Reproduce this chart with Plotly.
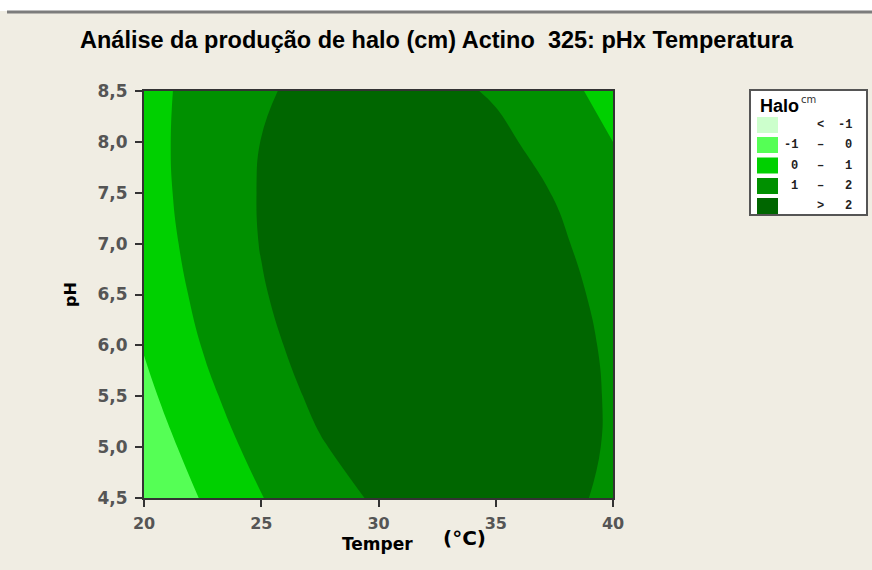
import plotly.graph_objects as go

# ---------------- data ----------------
temperatura = [20, 22.5, 25, 27.5, 30, 32.5, 35, 37.5, 40]
ph = [4.5, 5.0, 5.5, 6.0, 6.5, 7.0, 7.5, 8.0, 8.5]
# halo (cm): rows = pH (4.5 -> 8.5), columns = temperature (20 -> 40)
halo_ph45 = [-0.98, 0.07, 0.97, 1.65, 2.11, 2.37, 2.40, 2.23, 1.84]
halo_ph50 = [-0.61, 0.46, 1.31, 1.94, 2.36, 2.57, 2.56, 2.34, 1.91]
halo_ph55 = [-0.24, 0.78, 1.58, 2.17, 2.55, 2.71, 2.66, 2.39, 1.91]
halo_ph60 = [0.06, 1.03, 1.79, 2.34, 2.67, 2.79, 2.69, 2.38, 1.86]
halo_ph65 = [0.30, 1.23, 1.94, 2.44, 2.73, 2.80, 2.66, 2.31, 1.74]
halo_ph70 = [0.48, 1.36, 2.03, 2.48, 2.73, 2.75, 2.57, 2.17, 1.55]
halo_ph75 = [0.59, 1.43, 2.05, 2.46, 2.66, 2.64, 2.41, 1.97, 1.31]
halo_ph80 = [0.64, 1.43, 2.01, 2.38, 2.53, 2.47, 2.19, 1.70, 1.00]
halo_ph85 = [0.63, 1.38, 1.91, 2.23, 2.34, 2.23, 1.91, 1.38, 0.63]
halo = [halo_ph45, halo_ph50, halo_ph55, halo_ph60, halo_ph65,
        halo_ph70, halo_ph75, halo_ph80, halo_ph85]

x_ticks = [20, 25, 30, 35, 40]
x_ticklabels = ["20", "25", "30", "35", "40"]
y_ticks = [4.5, 5.0, 5.5, 6.0, 6.5, 7.0, 7.5, 8.0, 8.5]
y_ticklabels = ["4,5", "5,0", "5,5", "6,0", "6,5", "7,0", "7,5", "8,0", "8,5"]

levels = [-1, 0, 1, 2]
band_colors = ["#CCFFCC", "#55FF55", "#00D000", "#009000", "#006600"]
legend_left = ["", "-1", "0", "1", ""]
legend_mid = ["<", "\u2013", "\u2013", "\u2013", ">"]
legend_right = ["-1", "0", "1", "2", "2"]

title_text = "Análise da produção de halo (cm) Actino  325: pHx Temperatura"

# ---------------- layout geometry ----------------
W, H = 872, 570
L, R, T, B = 144, 613, 91, 498
PW, PH = R - L, B - T
BG = "#F0EDE3"


def px(x):
    return (x - L) / PW


def py(y):
    return (B - y) / PH


# stepped colorscale over [-2, 3]
n = len(band_colors)
cs = []
for i, c in enumerate(band_colors):
    cs.append([i / n, c])
    cs.append([(i + 1) / n, c])

fig = go.Figure()
fig.add_trace(go.Contour(
    x=temperatura, y=ph, z=halo,
    colorscale=cs, zmin=-2, zmax=3, zauto=False,
    contours=dict(start=levels[0], end=levels[-1], size=1,
                  coloring="fill", showlines=False),
    line=dict(width=0, smoothing=1.3),
    showscale=False, hoverinfo="skip",
))

fig.update_xaxes(range=[20, 40], tickvals=x_ticks, ticktext=x_ticklabels,
                 ticks="outside", ticklen=7, tickwidth=2, tickcolor="#333333",
                 showline=True, linecolor="#333333", linewidth=2, mirror=True,
                 showgrid=False, zeroline=False,
                 tickfont=dict(family="DejaVu Sans", size=16, color="#555555", weight="bold"),
                 ticklabelstandoff=3)
fig.update_yaxes(range=[4.5, 8.5], tickvals=y_ticks, ticktext=y_ticklabels,
                 ticks="outside", ticklen=7, tickwidth=2, tickcolor="#333333",
                 showline=True, linecolor="#333333", linewidth=2, mirror=True,
                 showgrid=False, zeroline=False,
                 tickfont=dict(family="DejaVu Sans", size=17, color="#555555", weight="bold"),
                 ticklabelstandoff=4)

shapes = []
annotations = []

# top white strip and grey rule
shapes.append(dict(type="rect", xref="paper", yref="paper", x0=px(0), x1=px(W),
                   y0=py(11), y1=py(0), fillcolor="white", line=dict(width=0), layer="above"))
shapes.append(dict(type="rect", xref="paper", yref="paper", x0=px(7), x1=px(W),
                   y0=py(13.5), y1=py(10.5), fillcolor="#7C7C7C", line=dict(width=0), layer="above"))

# title
annotations.append(dict(text=title_text, xref="paper", yref="paper", x=px(437), y=py(40),
                        xanchor="center", yanchor="middle", showarrow=False,
                        font=dict(family="Liberation Sans", size=23.5, color="black", weight="bold")))
# axis titles
annotations.append(dict(text="Temper", xref="paper", yref="paper", x=px(377), y=py(544),
                        xanchor="center", yanchor="middle", showarrow=False,
                        font=dict(family="DejaVu Sans", size=17, color="black", weight="bold")))
annotations.append(dict(text="(°C)", xref="paper", yref="paper", x=px(464), y=py(538),
                        xanchor="center", yanchor="middle", showarrow=False,
                        font=dict(family="DejaVu Sans", size=20, color="black", weight="bold")))
annotations.append(dict(text="pH", xref="paper", yref="paper", x=px(70), y=py(295),
                        xanchor="center", yanchor="middle", showarrow=False, textangle=-90,
                        font=dict(family="DejaVu Sans", size=16, color="black", weight="bold")))

# legend box
shapes.append(dict(type="rect", xref="paper", yref="paper", x0=px(750), x1=px(867),
                   y0=py(215), y1=py(90), fillcolor="white",
                   line=dict(color="#555555", width=2), layer="above"))
annotations.append(dict(text="Halo", xref="paper", yref="paper", x=px(758), y=py(106),
                        xanchor="left", yanchor="middle", showarrow=False,
                        font=dict(family="Liberation Sans", size=18, color="black", weight="bold")))
annotations.append(dict(text="cm", xref="paper", yref="paper", x=px(799), y=py(99),
                        xanchor="left", yanchor="middle", showarrow=False,
                        font=dict(family="DejaVu Sans", size=10, color="#333333")))
row_y = [125, 145, 165.5, 186, 206]
lfont = dict(family="Liberation Mono", size=12, color="#222222", weight="bold")
for i in range(n):
    yc = row_y[i]
    shapes.append(dict(type="rect", xref="paper", yref="paper", x0=px(757), x1=px(778),
                       y0=py(yc + 8), y1=py(yc - 8), fillcolor=band_colors[i],
                       line=dict(width=0), layer="above"))
    if legend_left[i]:
        annotations.append(dict(text=legend_left[i], xref="paper", yref="paper", x=px(800), y=py(yc),
                                xanchor="right", yanchor="middle", showarrow=False, font=lfont))
    annotations.append(dict(text=legend_mid[i], xref="paper", yref="paper", x=px(820), y=py(yc),
                            xanchor="center", yanchor="middle", showarrow=False, font=lfont))
    annotations.append(dict(text=legend_right[i], xref="paper", yref="paper", x=px(854), y=py(yc),
                            xanchor="right", yanchor="middle", showarrow=False, font=lfont))

fig.update_layout(width=W, height=H, margin=dict(l=L, r=W - R, t=T, b=H - B),
                  paper_bgcolor=BG, plot_bgcolor=BG, showlegend=False,
                  shapes=shapes, annotations=annotations)

fig.write_html("out.html")
